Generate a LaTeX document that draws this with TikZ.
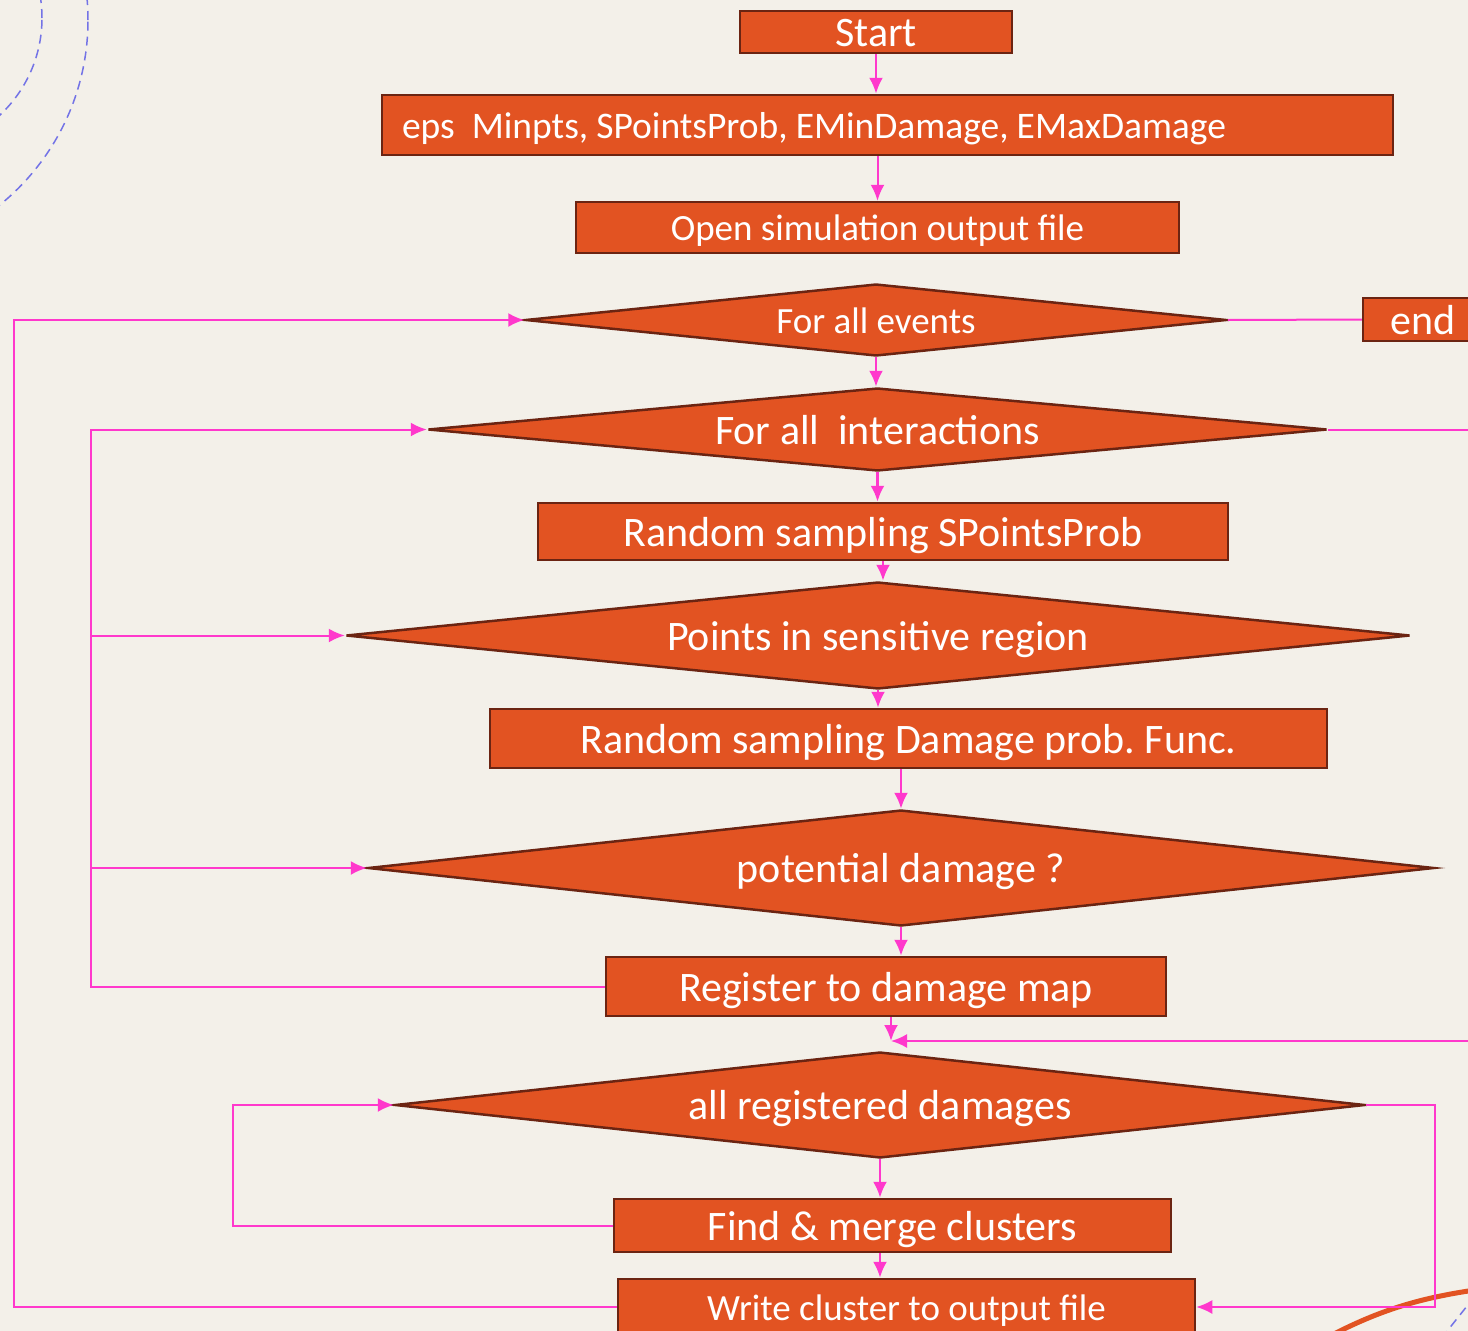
\documentclass[tikz,border=0pt]{standalone}
\usepackage{fontspec}
\setmainfont{Carlito}
\usetikzlibrary{shapes.geometric, arrows.meta}
\frenchspacing

\definecolor{paper}{HTML}{F3F0E9}
\definecolor{boxfill}{HTML}{E25322}
\definecolor{boxline}{HTML}{6B2412}
\definecolor{linkpink}{HTML}{FF38CC}
\definecolor{decoblue}{HTML}{7373E6}

\begin{document}
\begin{tikzpicture}[> = {Latex[length = 16pt, width = 14pt]}, x = 1pt, y = -1pt,
	stepbox/.style = {rectangle, draw = boxline, line width = 2.5pt, fill = boxfill, text = white, text depth = 0pt, inner sep = 0pt},
	testbox/.style = {diamond, aspect = 10, draw = boxline, line width = 2.5pt, fill = boxfill, text = white, text depth = 0pt, inner sep = 0pt},
	largetext/.style = {font = \fontsize{42}{50}\selectfont, text height = 29pt},
	smalltext/.style = {font = \fontsize{37}{44}\selectfont, text height = 26pt},
	flow/.style = {->, draw = linkpink, line width = 2.5pt},
	back/.style = {draw = linkpink, line width = 2pt}
]

	% Page

	\useasboundingbox (0, 0) rectangle (1468, 1331);
	\fill [paper] (0, 0) rectangle (1468, 1331);

	% Decoration

	\begin{scope}
		\clip (0, 0) rectangle (1468, 1331);
		\draw [decoblue, line width = 1.5pt, dash pattern = on 9pt off 6pt] (-91, 18) circle [radius = 133pt];
		\draw [decoblue, line width = 1.5pt, dash pattern = on 9pt off 6pt] (-150, 20) circle [radius = 238pt];
		\draw [boxfill, line width = 5pt] (1330, 1336) .. controls (1380, 1310) and (1420, 1298) .. (1475, 1290);
		\draw [decoblue, line width = 1.5pt, dash pattern = on 9pt off 6pt] (1475, 1296) -- (1440, 1340);
	\end{scope}

	% Boxes

	\node [stepbox, smalltext, font = \fontsize{37.5}{44}\selectfont, minimum height = 60pt, text width = 971pt, inner xsep = 20pt, align = left] (params) at (887.5, 125) {\spaceskip=8pt eps\hspace{17pt}Minpts, SPointsProb, EMinDamage, EMaxDamage};
	\node [stepbox, largetext, minimum width = 272pt, minimum height = 42pt] (start) at (876, 32) {Start};
	\node [stepbox, smalltext, minimum width = 603pt, minimum height = 51pt] (openfile) at (877.5, 227.5) {Open simulation output file};
	\node [testbox, smalltext, minimum width = 701pt, minimum height = 72pt] (events) at (876, 320) {For all events};
	\node [stepbox, largetext, minimum width = 120pt, minimum height = 43pt] (finish) at (1423, 319.5) {end};
	\node [testbox, largetext, minimum width = 899pt, minimum height = 83pt] (interactions) at (877.5, 429.5) {For all\ \ interactions};
	\node [stepbox, largetext, minimum width = 690pt, minimum height = 57pt] (sampling) at (883, 531.5) {Random sampling SPointsProb};
	\node [testbox, largetext, minimum width = 1064pt, minimum height = 107pt] (region) at (878, 635.5) {Points in sensitive region};
	\node [stepbox, largetext, minimum width = 837pt, minimum height = 59pt] (dmgfunc) at (908.5, 738.5) {Random sampling Damage prob. Func.};
	\node [testbox, largetext, minimum width = 1066pt, minimum height = 116pt] (potential) at (901, 868) {potential damage ?};
	\node [stepbox, largetext, minimum width = 560pt, minimum height = 59pt] (register) at (886, 986.5) {Register to damage map};
	\node [testbox, largetext, minimum width = 970pt, minimum height = 106pt] (registered) at (880, 1105) {all registered damages};
	\node [stepbox, largetext, minimum width = 557pt, minimum height = 53pt] (merge) at (892.5, 1225.5) {Find \& merge clusters};
	\node [stepbox, smalltext, minimum width = 577pt, minimum height = 56pt] (writeout) at (906.5, 1307) {Write cluster to output file};

	% Rails

	\coordinate (outerrail) at (14, 800);
	\coordinate (midrail) at (91, 700);
	\coordinate (innerrail) at (233, 1160);
	\coordinate (rightrail) at (1435, 1200);
	\coordinate (farright) at (1490, 700);
	\coordinate (join) at (891, 1041);

	% Flow

	\draw [flow] (start.south) -- (start.south |- params.north);
	\draw [flow, line width = 2pt] (openfile.north |- params.south) -- (openfile.north);
	\draw [flow] (events.south) -- (events.south |- interactions.north);
	\draw [flow] (interactions.south) -- (interactions.south |- sampling.north);
	\draw [flow] (sampling.south) -- (sampling.south |- region.north);
	\draw [flow] (region.south) -- (region.south |- dmgfunc.north);
	\draw [flow] (dmgfunc.south -| potential.north) -- (potential.north);
	\draw [flow] (potential.south) -- (potential.south |- register.north);
	\draw [flow] (register.south -| join) -- (join);
	\draw [flow] (registered.south) -- (registered.south |- merge.north);
	\draw [flow] (merge.south -| registered.south) -- (writeout.north -| registered.south);

	% Loops

	\draw [back] (events.east) -- (finish.west);
	\draw [back, ->] (interactions.east) -| (farright) |- (join);
	\draw [back, ->] (writeout.west) -| (outerrail) |- (events.west);
	\draw [back, ->] (register.west) -| (midrail) |- (interactions.west);
	\draw [back, ->] (midrail |- region.west) -- (region.west);
	\draw [back, ->] (midrail |- potential.west) -- (potential.west);
	\draw [back, ->] (merge.west) -| (innerrail) |- (registered.west);
	\draw [back, ->] (registered.east) -| (rightrail) |- (writeout.east);

\end{tikzpicture}
\end{document}
